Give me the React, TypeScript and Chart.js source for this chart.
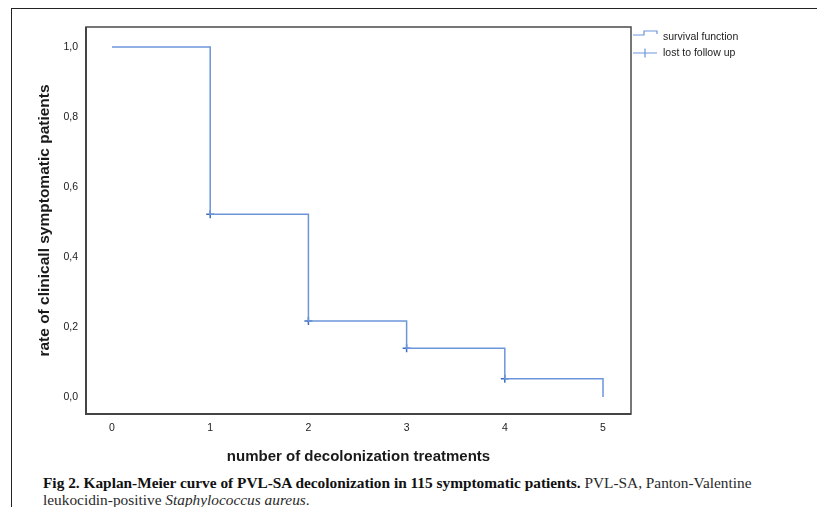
import React, { useEffect, useRef } from "react";
import { Chart, registerables } from "chart.js";

Chart.register(...registerables);

// ---- data ----
const treatments = [0, 1, 2, 3, 4, 5];
const survival = [1.0, 0.522, 0.217, 0.139, 0.052, 0.0];
const censoredX = [1, 2, 3, 4];
const censoredY = [0.522, 0.217, 0.139, 0.052];
const yTicks = [0, 0.2, 0.4, 0.6, 0.8, 1.0];
const xTicks = [0, 1, 2, 3, 4, 5];
const legendLabels = ["survival function", "lost to follow up"];
const xTitle = "number of decolonization treatments";
const yTitle = "rate of clinicall symptomatic patients";

const LINE = "rgb(108,150,218)";
const MARK = "rgb(62,108,190)";
const SANS = "'Liberation Sans', Arial, sans-serif";

const framePlugin = {
  id: "frame",
  afterDraw(chart: any) {
    const { ctx, chartArea: a } = chart;
    ctx.save();
    ctx.strokeStyle = "#555";
    ctx.lineWidth = 1.6;
    ctx.strokeRect(a.left, a.top, a.right - a.left, a.bottom - a.top);
    ctx.strokeStyle = "#444";
    ctx.lineWidth = 2;
    ctx.beginPath();
    ctx.moveTo(a.left, a.top);
    ctx.lineTo(a.left, a.bottom);
    ctx.lineTo(a.right, a.bottom);
    ctx.stroke();
    // legend
    const lx = a.right + 2;
    ctx.strokeStyle = LINE;
    ctx.lineWidth = 1.2;
    ctx.beginPath();
    ctx.moveTo(lx, 35);
    ctx.lineTo(lx + 11, 35);
    ctx.lineTo(lx + 11, 31);
    ctx.lineTo(lx + 24, 31);
    ctx.lineTo(lx + 24, 34);
    ctx.stroke();
    ctx.beginPath();
    ctx.moveTo(lx, 53);
    ctx.lineTo(lx + 24, 53);
    ctx.moveTo(lx + 12, 48.5);
    ctx.lineTo(lx + 12, 57.5);
    ctx.stroke();
    ctx.fillStyle = "#222";
    ctx.font = "10.5px " + SANS;
    ctx.textBaseline = "middle";
    ctx.textAlign = "left";
    ctx.fillText(legendLabels[0], lx + 30, 37);
    ctx.fillText(legendLabels[1], lx + 30, 53);
    ctx.restore();
  },
};

export default function App() {
  const ref = useRef<HTMLCanvasElement>(null);
  useEffect(() => {
    const chart = new Chart(ref.current!, {
      type: "line",
      data: {
        datasets: [
          {
            label: legendLabels[0],
            data: treatments.map((x, i) => ({ x, y: survival[i] })),
            stepped: "before",
            borderColor: LINE,
            borderWidth: 1.5,
            pointRadius: 0,
            fill: false,
          },
          {
            label: legendLabels[1],
            type: "scatter",
            data: censoredX.map((x, i) => ({ x, y: censoredY[i] })),
            pointStyle: "cross",
            pointRadius: 4,
            borderColor: MARK,
            backgroundColor: MARK,
            pointBorderWidth: 1.5,
            showLine: false,
          } as any,
        ],
      },
      options: {
        animation: false,
        responsive: false,
        layout: { padding: { left: 0, top: 27, right: 186, bottom: 0 } },
        plugins: { legend: { display: false }, tooltip: { enabled: false } },
        scales: {
          x: {
            type: "linear",
            min: -0.2648,
            max: 5.285,
            grid: { display: false, drawTicks: false },
            border: { display: false },
            afterBuildTicks: (s: any) => {
              s.ticks = xTicks.map((v) => ({ value: v }));
            },
            afterFit: (s: any) => {
              s.height = 56;
            },
            ticks: {
              padding: 8,
              color: "#222",
              font: { family: SANS, size: 10.5 },
              callback: (v: any) => String(v),
            },
            title: {
              display: true,
              text: xTitle,
              color: "#1a1a1a",
              font: { family: SANS, size: 15, weight: "bold" },
              padding: { top: 0, bottom: 4 },
            },
          },
          y: {
            type: "linear",
            min: -0.0486,
            max: 1.0571,
            grid: { display: false, drawTicks: false },
            border: { display: false },
            afterBuildTicks: (s: any) => {
              s.ticks = yTicks.map((v) => ({ value: v }));
            },
            afterFit: (s: any) => {
              s.width = 86;
            },
            ticks: {
              padding: 8,
              color: "#222",
              font: { family: SANS, size: 10.5 },
              callback: (v: any) => Number(v).toFixed(1).replace(".", ","),
            },
            title: {
              display: true,
              text: yTitle,
              color: "#1a1a1a",
              font: { family: SANS, size: 15.5, weight: "bold" },
              padding: { top: 35, bottom: 0 },
            },
          },
        },
      },
      plugins: [framePlugin],
    } as any);
    return () => chart.destroy();
  }, []);

  return (
    <div
      style={{
        position: "fixed",
        left: 0,
        top: 0,
        width: 817,
        height: 507,
        background: "#fff",
        overflow: "hidden",
      }}
    >
      <div
        style={{
          position: "absolute",
          left: 11,
          top: 8,
          width: 900,
          height: 600,
          borderLeft: "1.5px solid #222",
          borderTop: "1.5px solid #222",
        }}
      />
      <canvas
        ref={ref}
        width={817}
        height={470}
        style={{ position: "absolute", left: 0, top: 0 }}
      />
      <div
        style={{
          position: "absolute",
          left: 43,
          top: 474,
          width: 770,
          fontFamily: "'Liberation Serif', 'Times New Roman', serif",
          fontSize: 15.35,
          lineHeight: "17px",
          color: "#2a2a2a",
          whiteSpace: "nowrap",
        }}
      >
        <div>
          <b style={{ color: "#111" }}>
            Fig 2. Kaplan-Meier curve of PVL-SA decolonization in 115 symptomatic patients.
          </b>{" "}
          PVL-SA, Panton-Valentine
        </div>
        <div>
          leukocidin-positive <i>Staphylococcus aureus</i>.
        </div>
      </div>
    </div>
  );
}
